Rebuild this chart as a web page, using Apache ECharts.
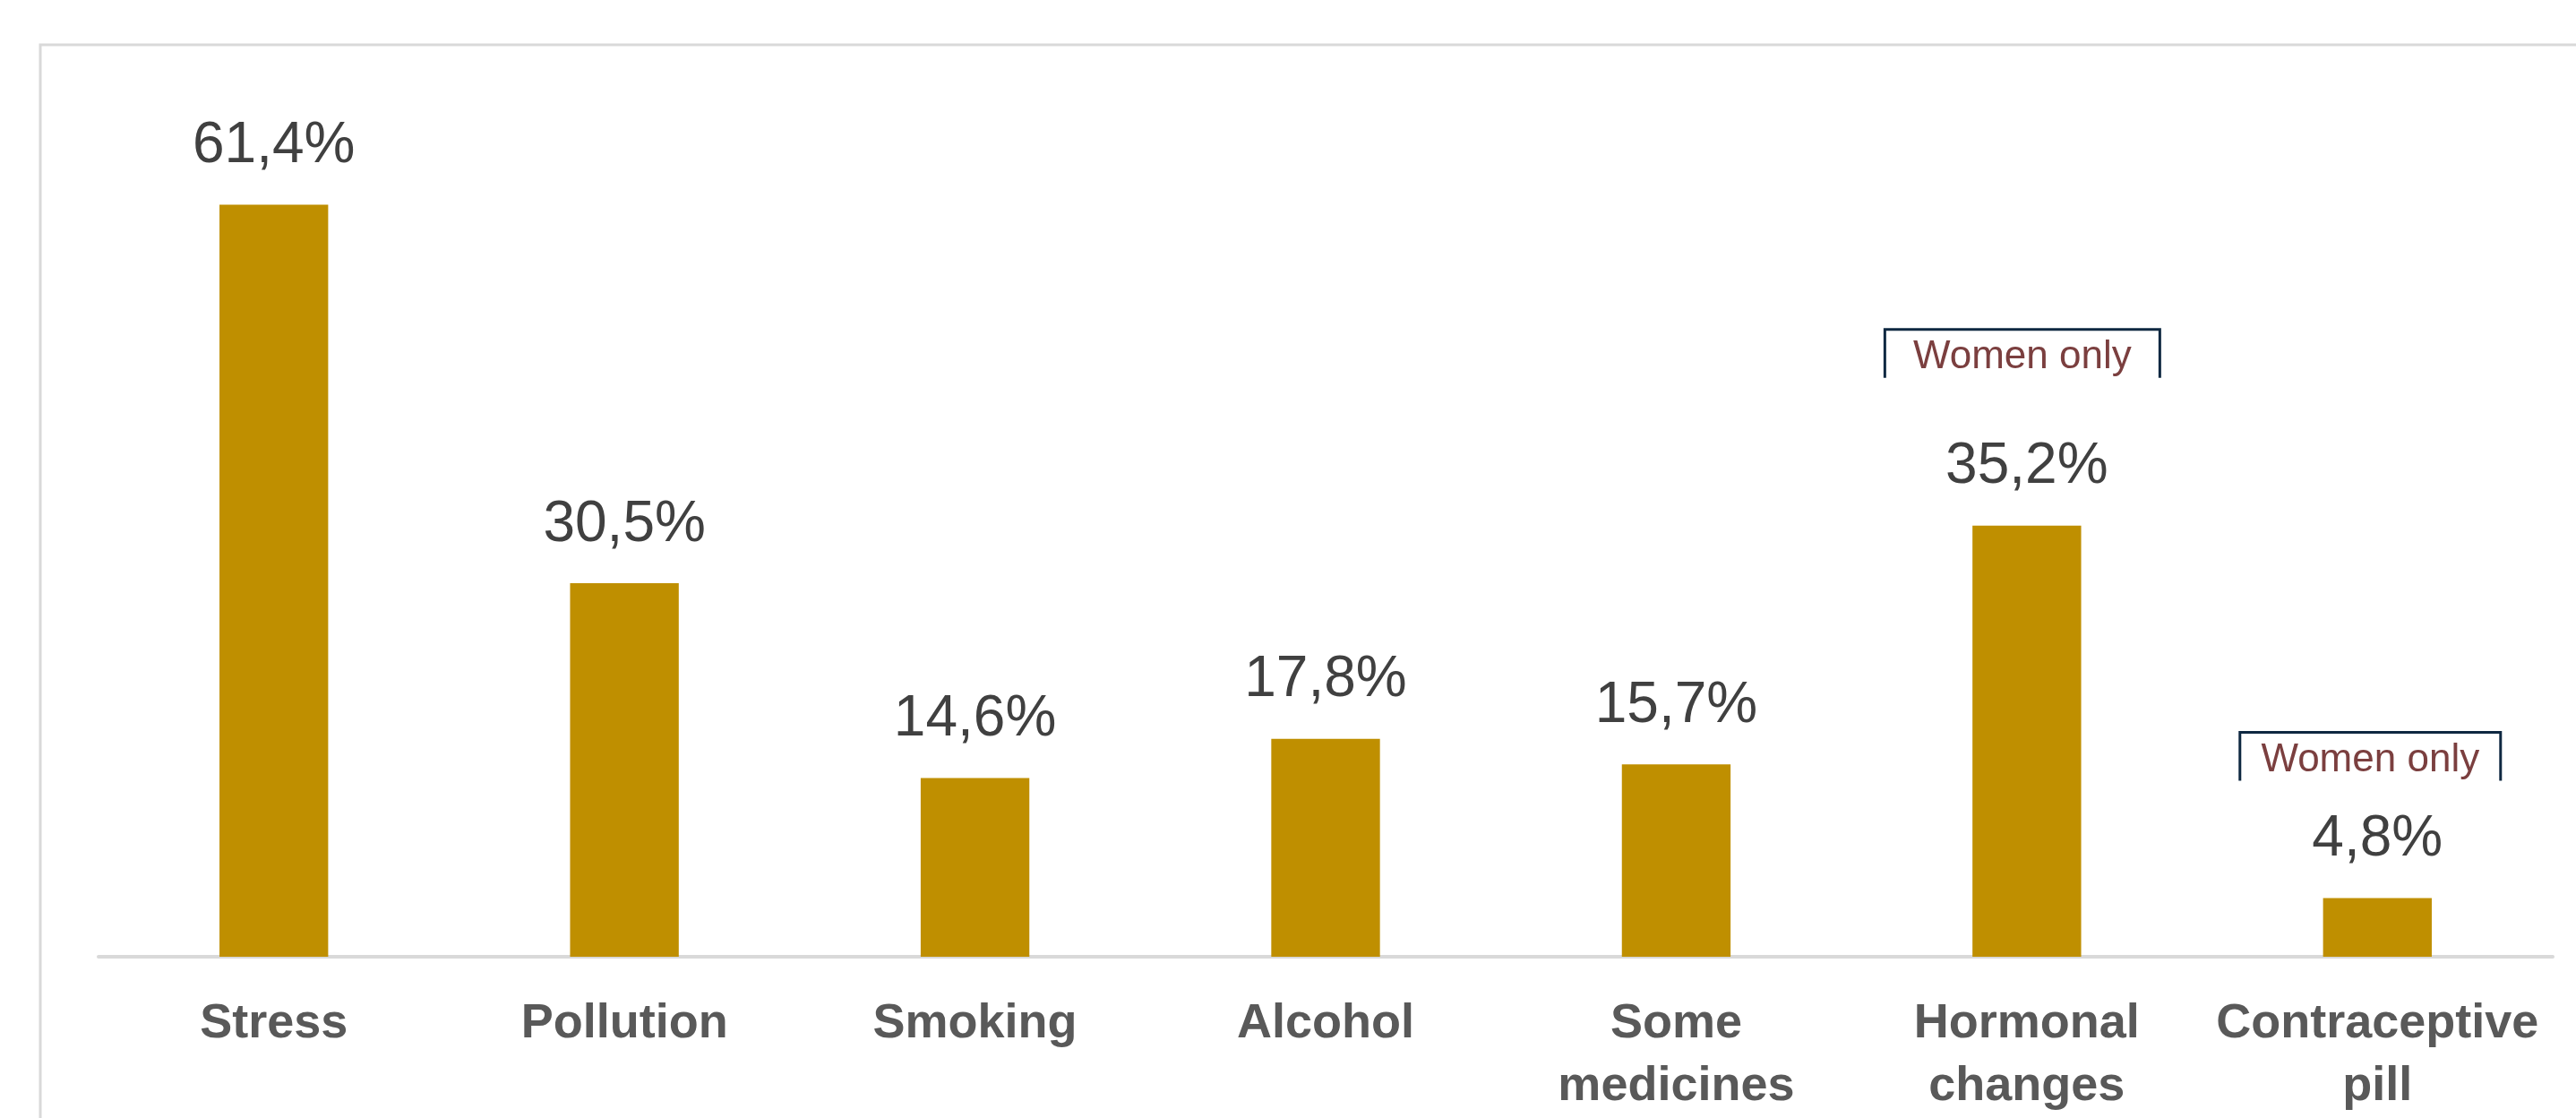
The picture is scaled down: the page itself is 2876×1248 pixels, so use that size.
<!DOCTYPE html>
<html>
<head>
<meta charset="utf-8">
<script src="https://cdn.jsdelivr.net/npm/echarts@6/dist/echarts.min.js"></script>
<style>
    html, body {
        margin: 0;
        padding: 0;
        background: #fff;
    }
    #chart {
        width: 2876px;
        height: 1248px;
    }
</style>
</head>
<body>
<div id="chart"></div>
<script>
// data
const categories = ["Stress", "Pollution", "Smoking", "Alcohol", "Some\nmedicines", "Hormonal\nchanges", "Contraceptive\npill"];
const shares = [61.4, 30.5, 14.6, 17.8, 15.7, 35.2, 4.8];
const womenOnlyCategories = ["Hormonal\nchanges", "Contraceptive\npill"];
const womenOnlyText = "Women only";

// placement of the "Women only" brackets, px relative to the bar top
const bracketStyle = {
    "Hormonal\nchanges": { rise: 219, width: 307, shift: -5 },
    "Contraceptive\npill": { rise: 185, width: 291, shift: -8 }
};

const fontFamily = "'Liberation Sans', Arial, sans-serif";
const myChart = echarts.init(document.getElementById("chart"));

myChart.setOption({
    animation: false,
    grid: {
        left: 110,
        right: 26,
        top: 111,
        bottom: 178
    },
    xAxis: {
        type: "category",
        data: categories,
        axisLine: {
            lineStyle: {
                color: "#d9d9d9",
                width: 4
            }
        },
        axisTick: {
            show: false
        },
        axisLabel: {
            interval: 0,
            margin: 40,
            fontFamily: fontFamily,
            fontSize: 54,
            fontWeight: "bold",
            lineHeight: 70,
            color: "#595959"
        }
    },
    yAxis: {
        type: "value",
        min: 0,
        max: 70,
        show: false,
        splitLine: {
            show: false
        }
    },
    series: [
        {
            type: "bar",
            data: shares,
            barWidth: "31%",
            itemStyle: {
                color: "#bf8f00"
            },
            label: {
                show: true,
                position: "top",
                distance: 33,
                fontFamily: fontFamily,
                fontSize: 64,
                color: "#404040",
                formatter: function (p) {
                    return p.value.toFixed(1).replace(".", ",") + "%";
                }
            }
        }
    ]
});

// frame + "Women only" brackets, placed from the axis scales
function drawExtras() {
    const elements = [
        {
            type: "rect",
            silent: true,
            z: -1,
            shape: { x: 45, y: 50, width: 4000, height: 2000 },
            style: { fill: null, stroke: "#d9d9d9", lineWidth: 3 }
        }
    ];
    womenOnlyCategories.forEach(function (cat) {
        const idx = categories.indexOf(cat);
        const pt = myChart.convertToPixel({ xAxisIndex: 0, yAxisIndex: 0 }, [idx, shares[idx]]);
        const s = bracketStyle[cat];
        const cx = pt[0] + s.shift;
        const top = pt[1] - s.rise;
        elements.push({
            type: "polyline",
            silent: true,
            shape: {
                points: [
                    [cx - s.width / 2, top + 54],
                    [cx - s.width / 2, top],
                    [cx + s.width / 2, top],
                    [cx + s.width / 2, top + 54]
                ]
            },
            style: { stroke: "#0e2841", lineWidth: 3, fill: null }
        });
        elements.push({
            type: "text",
            silent: true,
            x: cx,
            y: top + 53,
            style: {
                text: womenOnlyText,
                fontFamily: fontFamily,
                fontSize: 44,
                fill: "#7b3f3f",
                align: "center",
                verticalAlign: "bottom"
            }
        });
    });
    myChart.setOption({ graphic: elements });
}
drawExtras();
</script>
</body>
</html>
